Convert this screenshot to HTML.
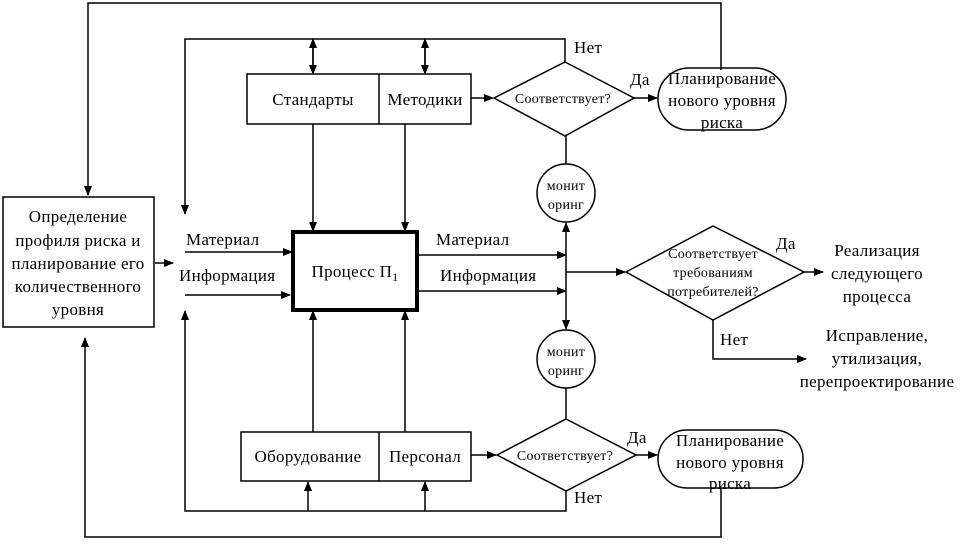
<!DOCTYPE html>
<html><head><meta charset="utf-8"><style>
html,body{margin:0;padding:0;background:#fff}
svg{display:block}
text{font-family:"Liberation Serif","DejaVu Serif",serif;fill:#000}
</style></head><body>
<svg width="967" height="551" viewBox="0 0 967 551" xmlns="http://www.w3.org/2000/svg">
<defs>
<marker id="a" markerWidth="10" markerHeight="8" refX="9" refY="4" orient="auto" markerUnits="userSpaceOnUse">
<path d="M0,0 L10,4 L0,8 z" fill="#000"/></marker>
</defs>
<g stroke="#000" stroke-width="1.5" fill="none">
<polyline points="721,70 721,3 88,3 88,195" marker-end="url(#a)"/>
<polyline points="565,62 565,39 185,39 185,214" marker-end="url(#a)"/>
<line x1="313" y1="39" x2="313" y2="74" marker-end="url(#a)"/>
<line x1="313" y1="74" x2="313" y2="39" marker-end="url(#a)"/>
<line x1="425" y1="39" x2="425" y2="74" marker-end="url(#a)"/>
<line x1="425" y1="74" x2="425" y2="39" marker-end="url(#a)"/>
<rect x="3" y="197" width="151" height="130"/>
<line x1="155" y1="263" x2="173" y2="263" marker-end="url(#a)"/>
<rect x="247" y="74" width="224" height="50"/>
<line x1="379" y1="74" x2="379" y2="124"/>
<line x1="313" y1="124" x2="313" y2="231" marker-end="url(#a)"/>
<line x1="405" y1="124" x2="405" y2="231" marker-end="url(#a)"/>
<line x1="185" y1="252" x2="292" y2="252" marker-end="url(#a)"/>
<line x1="185" y1="295" x2="290" y2="295" marker-end="url(#a)"/>
<line x1="419" y1="255" x2="566" y2="255" marker-end="url(#a)"/>
<line x1="419" y1="291" x2="566" y2="291" marker-end="url(#a)"/>
<line x1="566" y1="272" x2="566" y2="223" marker-end="url(#a)"/>
<line x1="566" y1="272" x2="566" y2="329" marker-end="url(#a)"/>
<line x1="566" y1="272" x2="625" y2="272" marker-end="url(#a)"/>
<polygon points="565,62 634,98 565,136 494,98"/>
<line x1="471" y1="98" x2="493" y2="98" marker-end="url(#a)"/>
<line x1="634" y1="98" x2="657" y2="98" marker-end="url(#a)"/>
<rect x="658" y="68" width="128" height="62" rx="31" ry="31"/>
<line x1="566" y1="136" x2="566" y2="164"/>
<circle cx="566" cy="193" r="29"/>
<polygon points="713,226 804,272 713,320 626,272"/>
<line x1="804" y1="272" x2="823" y2="272" marker-end="url(#a)"/>
<polyline points="713,320 713,359 806,359" marker-end="url(#a)"/>
<circle cx="566" cy="359" r="29"/>
<line x1="566" y1="388" x2="566" y2="419"/>
<polygon points="566,419 636,455 566,491 497,455"/>
<line x1="471" y1="455" x2="496" y2="455" marker-end="url(#a)"/>
<line x1="636" y1="455" x2="657" y2="455" marker-end="url(#a)"/>
<rect x="658" y="430" width="145" height="58" rx="29" ry="29"/>
<rect x="241" y="432" width="230" height="49"/>
<line x1="379" y1="432" x2="379" y2="481"/>
<line x1="313" y1="432" x2="313" y2="311" marker-end="url(#a)"/>
<line x1="405" y1="432" x2="405" y2="311" marker-end="url(#a)"/>
<polyline points="566,491 566,511 185,511 185,311" marker-end="url(#a)"/>
<line x1="308" y1="511" x2="308" y2="482" marker-end="url(#a)"/>
<line x1="425" y1="511" x2="425" y2="482" marker-end="url(#a)"/>
<polyline points="721,488 721,537 85,537 85,338" marker-end="url(#a)"/>
</g>
<rect x="293" y="232" width="124" height="78" fill="#fff" stroke="#000" stroke-width="4"/>
<g font-size="17" text-anchor="middle" letter-spacing="0.3">
<text x="78" y="222">Определение</text>
<text x="78" y="246">профиля риска и</text>
<text x="78" y="269">планирование его</text>
<text x="78" y="292">количественного</text>
<text x="78" y="315">уровня</text>
<text x="313" y="105">Стандарты</text>
<text x="425" y="105">Методики</text>
<text x="355" y="277">Процесс П<tspan font-size="12" dy="4">1</tspan></text>
<text x="308" y="462">Оборудование</text>
<text x="425" y="462">Персонал</text>
<text x="877" y="256">Реализация</text>
<text x="877" y="279">следующего</text>
<text x="877" y="302">процесса</text>
<text x="877" y="341">Исправление,</text>
<text x="877" y="364">утилизация,</text>
<text x="877" y="387">перепроектирование</text>
<text x="722" y="84">Планирование</text>
<text x="722" y="106">нового уровня</text>
<text x="722" y="128">риска</text>
<text x="730" y="446">Планирование</text>
<text x="730" y="468">нового уровня</text>
<text x="730" y="489">риска</text>
</g>
<g font-size="17" letter-spacing="0.3">
<text x="186" y="245">Материал</text>
<text x="179" y="281">Информация</text>
<text x="436" y="245">Материал</text>
<text x="440" y="281">Информация</text>
<text x="574" y="53">Нет</text>
<text x="574" y="503">Нет</text>
<text x="630" y="85">Да</text>
<text x="627" y="443">Да</text>
<text x="776" y="249">Да</text>
<text x="720" y="345">Нет</text>
</g>
<g font-size="14" text-anchor="middle" letter-spacing="0.3">
<text x="563" y="103">Соответствует?</text>
<text x="565" y="460">Соответствует?</text>
<text x="713" y="258">Соответствует</text>
<text x="713" y="277">требованиям</text>
<text x="713" y="296">потребителей?</text>
<text x="566" y="190">монит</text>
<text x="566" y="209">оринг</text>
<text x="566" y="356">монит</text>
<text x="566" y="375">оринг</text>
</g>
</svg>
</body></html>
